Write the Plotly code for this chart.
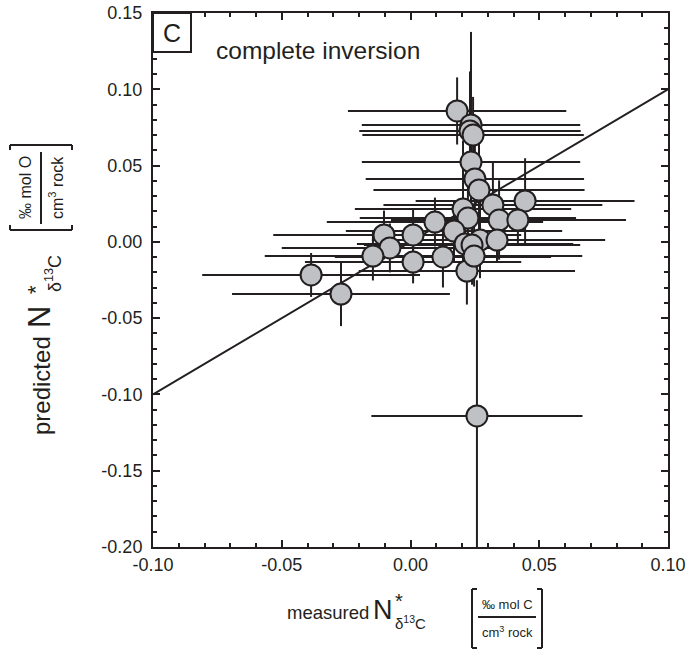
import plotly.graph_objects as go

# ---- data ----
measured = [0.0181, 0.0235, 0.0231, 0.0243, 0.0235, 0.0250, 0.0266, 0.0445, 0.0320, 0.0204,
            0.0223, 0.0344, 0.0417, 0.0095, 0.0169, -0.0103, 0.0010, -0.0080, 0.0270, 0.0336,
            0.0212, 0.0239, -0.0146, 0.0126, 0.0010, 0.0219, -0.0386, -0.0270, 0.0258, 0.0247]
predicted = [0.0858, 0.0766, 0.0727, 0.0700, 0.0523, 0.0412, 0.0340, 0.0268, 0.0242, 0.0215,
             0.0156, 0.0143, 0.0143, 0.0130, 0.0071, 0.0045, 0.0045, -0.0040, 0.0012, 0.0012,
             -0.0014, -0.0021, -0.0093, -0.0099, -0.0132, -0.0191, -0.0217, -0.0342, -0.1141, -0.0093]
measured_err = [0.0424, 0.0424, 0.043, 0.043, 0.0424, 0.0424, 0.041, 0.0425, 0.0425, 0.042,
                0.042, 0.042, 0.042, 0.042, 0.042, 0.043, 0.042, 0.042, 0.042, 0.042,
                0.042, 0.042, 0.042, 0.042, 0.042, 0.042, 0.0423, 0.0423, 0.041, 0.042]
predicted_err = [0.022, 0.061, 0.039, 0.025, 0.030, 0.030, 0.033, 0.028, 0.028, 0.045,
                 0.025, 0.026, 0.015, 0.016, 0.020, 0.016, 0.017, 0.016, 0.025, 0.015,
                 0.020, 0.026, 0.016, 0.020, 0.014, 0.022, 0.0144, 0.021, 0.089, 0.020]
one_to_one = [-0.10, 0.10]

x_tickvals = [-0.10, -0.05, 0.00, 0.05, 0.10]
x_ticktext = ["-0.10", "-0.05", "0.00", "0.05", "0.10"]
y_tickvals = [-0.20, -0.15, -0.10, -0.05, 0.00, 0.05, 0.10, 0.15]
y_ticktext = ["-0.20", "-0.15", "-0.10", "-0.05", "0.00", "0.05", "0.10", "0.15"]

# ---- layout geometry (pixels) ----
W, H = 690, 650
L, R, T, B = 153, 668, 13, 547
PW, PH = R - L, B - T


def px(xs):
    return (xs - L) / PW


def py(ys):
    return 1 - (ys - T) / PH


INK = "#231f20"
FILL = "#bfc1c4"
FONT = "Liberation Sans, Arial, sans-serif"

fig = go.Figure()
fig.add_trace(go.Scatter(x=one_to_one, y=one_to_one, mode="lines",
                         line=dict(color=INK, width=2), hoverinfo="skip", showlegend=False))
fig.add_trace(go.Scatter(
    x=measured, y=predicted, mode="markers", showlegend=False,
    marker=dict(size=21, color=FILL, line=dict(color=INK, width=2)),
    error_x=dict(type="data", array=measured_err, color=INK, thickness=2, width=0),
    error_y=dict(type="data", array=predicted_err, color=INK, thickness=2, width=0),
))

axis_common = dict(
    showgrid=False, zeroline=False, showline=True, linecolor=INK, linewidth=2,
    mirror="ticks", ticks="inside", ticklen=7, tickwidth=2, tickcolor=INK,
    tickmode="array", tickfont=dict(family=FONT, size=18, color=INK), automargin=False,
    ticklabeloverflow="allow",
    minor=dict(ticks="inside", ticklen=4, tickwidth=1.5, tickcolor=INK,
               tickmode="linear", tick0=0, dtick=0.01, showgrid=False),
)
fig.update_xaxes(range=[-0.10, 0.10], tickvals=x_tickvals, ticktext=x_ticktext, **axis_common)
fig.update_yaxes(range=[-0.20, 0.15], tickvals=y_tickvals, ticktext=y_ticktext,
                 ticklabelstandoff=5, **axis_common)

ann = []
shapes = []

# panel label box
shapes.append(dict(type="rect", x0=px(153), x1=px(191), y0=py(52), y1=py(13),
                   line=dict(color=INK, width=2), fillcolor="white"))
ann.append(dict(text="C", x=px(172), y=py(33), xanchor="center", yanchor="middle",
                font=dict(family=FONT, size=25, color=INK)))
ann.append(dict(text="complete inversion", x=px(214), y=py(51), xanchor="left", yanchor="middle",
                font=dict(family=FONT, size=24.5, color=INK)))

# x-axis title
ann += [
    dict(text="measured\u2009<span style=\"font-size:27px\">N</span>", x=px(285), y=py(610),
         xanchor="left", yanchor="middle", font=dict(family=FONT, size=18.5, color=INK)),
    dict(text="*", x=px(393), y=py(601), xanchor="left", yanchor="middle",
         font=dict(family=FONT, size=20, color=INK)),
    dict(text="δ<sup>13</sup>C", x=px(393), y=py(622), xanchor="left", yanchor="middle",
         font=dict(family=FONT, size=15, color=INK)),
    dict(text="‰ mol C", x=px(507), y=py(604), xanchor="center", yanchor="middle",
         font=dict(family=FONT, size=13, color=INK)),
    dict(text="cm<sup>3</sup> rock", x=px(507), y=py(632), xanchor="center", yanchor="middle",
         font=dict(family=FONT, size=13, color=INK)),
]
shapes += [
    dict(type="line", x0=px(478), x1=px(536), y0=py(617), y1=py(617)),
    dict(type="line", x0=px(472), x1=px(472), y0=py(589), y1=py(648)),
    dict(type="line", x0=px(472), x1=px(477), y0=py(589), y1=py(589)),
    dict(type="line", x0=px(472), x1=px(477), y0=py(648), y1=py(648)),
    dict(type="line", x0=px(542), x1=px(542), y0=py(589), y1=py(648)),
    dict(type="line", x0=px(537), x1=px(542), y0=py(589), y1=py(589)),
    dict(type="line", x0=px(537), x1=px(542), y0=py(648), y1=py(648)),
]

# y-axis title (rotated)
ann += [
    dict(text="predicted", x=px(41), y=py(386), xanchor="center", yanchor="middle", textangle=-90,
         font=dict(family=FONT, size=24, color=INK)),
    dict(text="N", x=px(39), y=py(317), xanchor="center", yanchor="middle", textangle=-90,
         font=dict(family=FONT, size=31, color=INK)),
    dict(text="*", x=px(35), y=py(290), xanchor="center", yanchor="middle", textangle=-90,
         font=dict(family=FONT, size=22, color=INK)),
    dict(text="δ<sup>13</sup>C", x=px(53), y=py(274), xanchor="center", yanchor="middle", textangle=-90,
         font=dict(family=FONT, size=18, color=INK)),
    dict(text="‰ mol O", x=px(25), y=py(188), xanchor="center", yanchor="middle", textangle=-90,
         font=dict(family=FONT, size=16, color=INK)),
    dict(text="cm<sup>3</sup> rock", x=px(56), y=py(188), xanchor="center", yanchor="middle", textangle=-90,
         font=dict(family=FONT, size=16, color=INK)),
]
shapes += [
    dict(type="line", x0=px(41), x1=px(41), y0=py(152), y1=py(224)),
    dict(type="line", x0=px(10), x1=px(72), y0=py(145), y1=py(145)),
    dict(type="line", x0=px(10), x1=px(10), y0=py(145), y1=py(150)),
    dict(type="line", x0=px(72), x1=px(72), y0=py(145), y1=py(150)),
    dict(type="line", x0=px(10), x1=px(72), y0=py(230), y1=py(230)),
    dict(type="line", x0=px(10), x1=px(10), y0=py(225), y1=py(230)),
    dict(type="line", x0=px(72), x1=px(72), y0=py(225), y1=py(230)),
]

for a in ann:
    a.update(xref="paper", yref="paper", showarrow=False)
for s in shapes:
    s.update(xref="paper", yref="paper")
    if s["type"] == "line":
        s["line"] = dict(color=INK, width=2)

fig.update_layout(
    width=W, height=H,
    margin=dict(l=L, r=W - R, t=T, b=H - B, pad=0),
    paper_bgcolor="white", plot_bgcolor="white",
    annotations=ann, shapes=shapes,
    font=dict(family=FONT, color=INK),
)
fig.write_html("out.html", config={"displayModeBar": False},
               post_script="document.body.style.margin='0';document.body.style.overflow='hidden';")
